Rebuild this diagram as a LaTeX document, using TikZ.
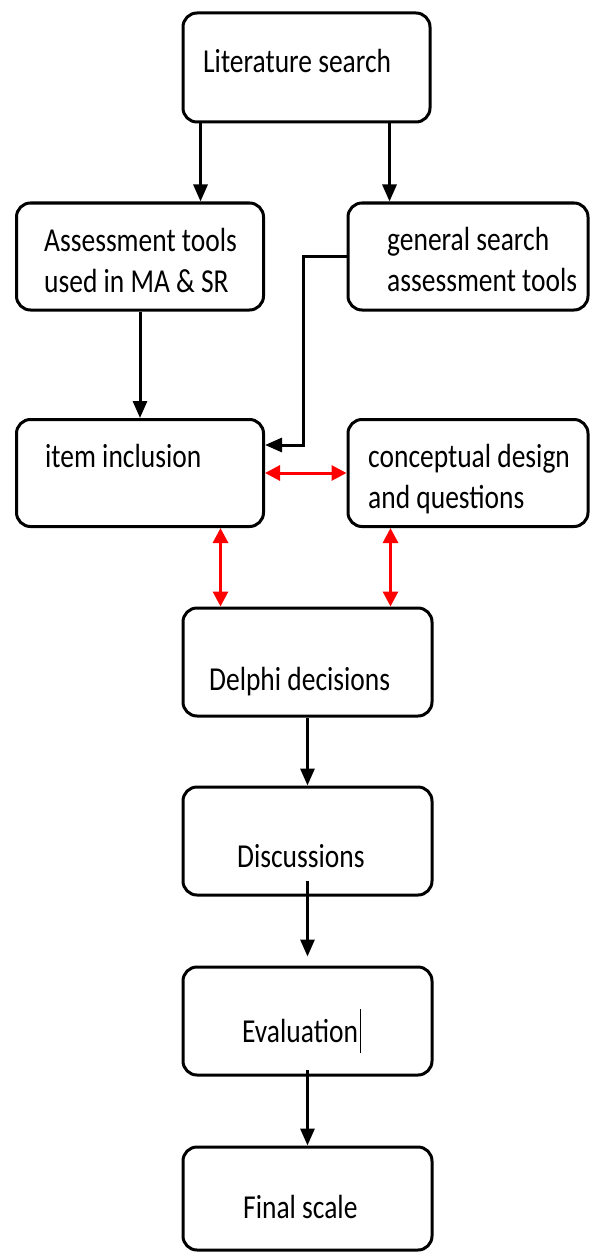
\documentclass[tikz,border=0pt]{standalone}
\usepackage{fontspec}
\setmainfont{Carlito}[FakeStretch=0.82]
\usepackage{tikz}
\usetikzlibrary{arrows.meta,positioning}
\definecolor{linkred}{HTML}{FF0000}

\begin{document}
\begin{tikzpicture}[x=1pt,y=-1pt,
    stage/.style={draw,line width=3pt,rounded corners=14pt,fill=white,inner sep=0pt,minimum width=249pt,minimum height=108pt},
    lbl/.style={anchor=base west,inner sep=0pt,align=left,font=\fontsize{33.5}{41}\selectfont},
    arr/.style={line width=3pt,-{Triangle[length=17pt,width=14pt]}},
    link/.style={line width=3pt,linkred,{Triangle[length=15pt,width=15pt]}-{Triangle[length=15pt,width=15pt]}}]
  \useasboundingbox (0,0) rectangle (590,1252);

  % boxes
  \node[stage,minimum width=247pt,minimum height=109pt] (lit) at (306.5,67.5) {};
  \node[stage,minimum width=247pt,minimum height=107pt] (amsr) at (140,256.5) {};
  \node[stage,minimum width=240pt,minimum height=107pt] (gen) at (468,256.5) {};
  \node[stage,minimum width=247pt,minimum height=107pt] (item) at (140,473) {};
  \node[stage,minimum width=240pt,minimum height=107pt] (concept) at (468,473) {};
  \node[stage] (delphi) at (307.5,662) {};
  \node[stage] (disc) at (307.5,841) {};
  \node[stage] (eval) at (307.5,1021) {};
  \node[stage,minimum height=103pt] (final) at (307.5,1198.5) {};

  % texts (two-line ones sit on their last baseline)
  \node[lbl] (lit-t) at (203,73) {Literature search};
  \node[lbl] (amsr-t) at (44,292) {Assessment tools\\used in MA \& SR};
  \node[lbl] (gen-t) at (387,291) {general search\\assessment tools};
  \node[lbl] (item-t) at (45,467) {item inclusion};
  \node[lbl] (concept-t) at (368,508) {conceptual design\\and questions};
  \node[lbl] (delphi-t) at (209,690) {Delphi decisions};
  \node[lbl] (disc-t) at (237,867) {Discussions};
  \node[lbl] (eval-t) at (242,1042) {Evaluation\hspace{2pt}\rule[-11pt]{0.8pt}{44pt}};
  \node[lbl] (final-t) at (243,1218) {Final scale};

  % connectors
  \coordinate (litL) at ([xshift=19pt]lit.south west);
  \coordinate (litR) at ([xshift=-42pt]lit.south east);
  \draw[arr] (litL) -- (litL |- amsr.north);
  \draw[arr] (litR) -- (litR |- gen.north);
  \draw[arr] (amsr) -- (item);
  \draw[arr] (gen.west) -- ++(-43,0) |- ([yshift=28pt]item.east);
  \draw[link] (item) -- (concept);
  \coordinate (dL) at ([xshift=39pt]delphi.north west);
  \coordinate (dR) at ([xshift=-43pt]delphi.north east);
  \draw[link] (dL |- item.south) -- (dL);
  \draw[link] (dR |- concept.south) -- (dR);
  \draw[arr] (delphi) -- (disc);
  \draw[arr,shorten <=-16pt,shorten >=9pt] (disc) -- (eval);
  \draw[arr,shorten <=-7pt] (eval) -- (final);
\end{tikzpicture}
\end{document}
